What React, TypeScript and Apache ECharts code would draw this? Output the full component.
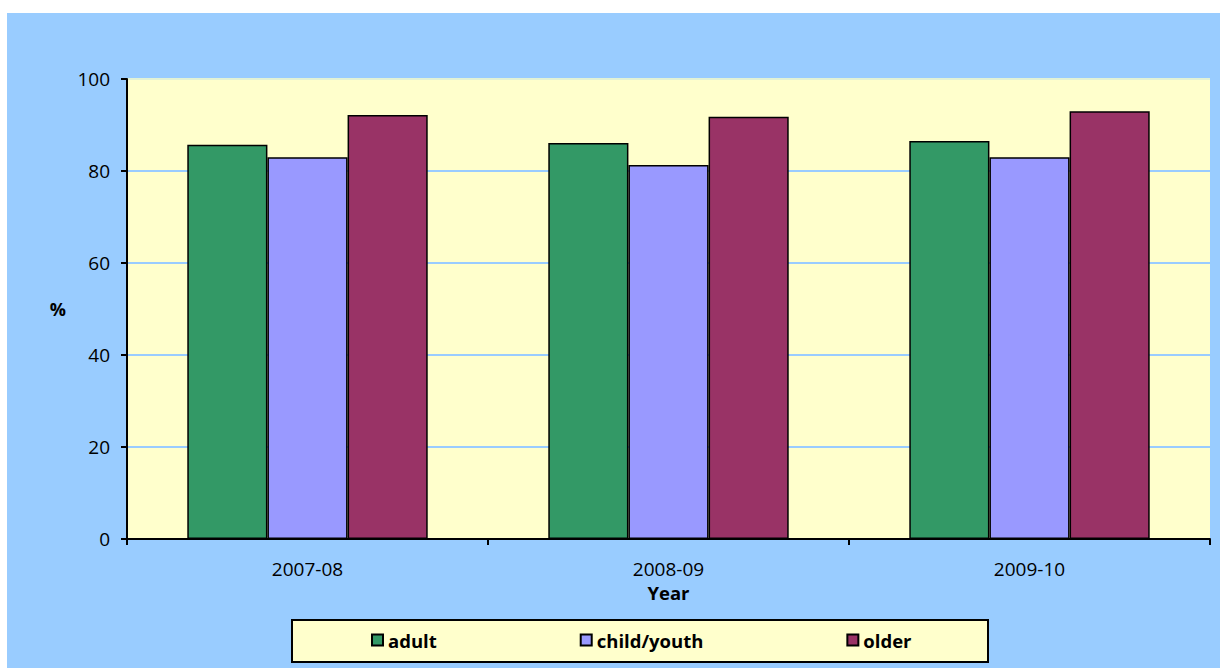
import React, { useEffect, useRef } from "react";
import * as echarts from "echarts";

const years = ["2007-08", "2008-09", "2009-10"];
const adult = [85.7, 86.1, 86.5];
const childYouth = [83.0, 81.3, 83.0];
const older = [92.2, 91.8, 93.0];
const yTicks = { min: 0, max: 100, interval: 20 };

const FONT = "'Open Sans', sans-serif";

export default function App() {
  const ref = useRef<HTMLDivElement>(null);
  useEffect(() => {
    if (!ref.current) return;
    const chart = echarts.init(ref.current, null, { renderer: "svg" });
    const barStyle = (color: string) => ({
      color,
      borderColor: "#000000",
      borderWidth: 1.5,
    });
    chart.setOption({
      animation: false,
      textStyle: { fontFamily: FONT },
      graphic: [
        {
          type: "rect",
          z: -10,
          shape: { x: 7, y: 13, width: 1213, height: 655 },
          style: { fill: "#99CCFF" },
          silent: true,
        },
        {
          type: "rect",
          z: -5,
          shape: { x: 292, y: 620, width: 696, height: 42 },
          style: { fill: "#FFFFCC", stroke: "#000000", lineWidth: 2 },
          silent: true,
        },
      ],
      grid: {
        left: 127,
        top: 79,
        width: 1083,
        height: 460,
        show: true,
        backgroundColor: "#FFFFCC",
        borderWidth: 0,
      },
      legend: {
        left: 366,
        top: 625,
        itemGap: 143,
        itemWidth: 11,
        itemHeight: 11,
        icon: "rect",
        textStyle: {
          fontFamily: FONT,
          fontWeight: "bold",
          fontSize: 18.5,
          color: "#000000",
          lineHeight: 20,
        },
        data: ["adult", "child/youth", "older"],
      },
      xAxis: {
        type: "category",
        data: years,
        name: "Year",
        nameLocation: "middle",
        nameGap: 45,
        nameMoveOverlap: false,
        nameTextStyle: {
          fontFamily: FONT,
          fontWeight: "bold",
          fontSize: 18.5,
          lineHeight: 17,
          color: "#000000",
        },
        axisLine: { lineStyle: { color: "#000000", width: 2 } },
        axisTick: { show: true, length: 6, lineStyle: { color: "#000000", width: 2 } },
        axisLabel: {
          fontFamily: FONT,
          fontSize: 19,
          lineHeight: 18,
          color: "#000000",
          margin: 21,
        },
        splitLine: { show: false },
      },
      yAxis: {
        type: "value",
        min: yTicks.min,
        max: yTicks.max,
        interval: yTicks.interval,
        name: "%",
        nameLocation: "middle",
        nameRotate: 0,
        nameGap: 61,
        nameMoveOverlap: false,
        nameTextStyle: {
          fontFamily: FONT,
          fontWeight: "bold",
          fontSize: 18,
          color: "#000000",
        },
        axisLine: { show: true, lineStyle: { color: "#000000", width: 2 } },
        axisTick: { show: true, length: 6, lineStyle: { color: "#000000", width: 2 } },
        axisLabel: {
          fontFamily: FONT,
          fontSize: 19,
          color: "#000000",
          margin: 17,
        },
        splitLine: {
          show: true,
          lineStyle: {
            color: ["#99CCFF", "#99CCFF", "#99CCFF", "#99CCFF", "#99CCFF", "#E2F2D6"],
            width: 2,
          },
        },
      },
      series: [
        {
          name: "adult",
          type: "bar",
          data: adult,
          barGap: "0%",
          barCategoryGap: "33.4%",
          itemStyle: barStyle("#339966"),
        },
        {
          name: "child/youth",
          type: "bar",
          data: childYouth,
          barGap: "0%",
          barCategoryGap: "33.4%",
          itemStyle: barStyle("#9999FF"),
        },
        {
          name: "older",
          type: "bar",
          data: older,
          barGap: "0%",
          barCategoryGap: "33.4%",
          itemStyle: barStyle("#993366"),
        },
      ],
    });
    return () => chart.dispose();
  }, []);
  return (
    <div
      ref={ref}
      style={{ position: "fixed", left: 0, top: 0, width: 1220, height: 668, background: "#ffffff" }}
    />
  );
}
